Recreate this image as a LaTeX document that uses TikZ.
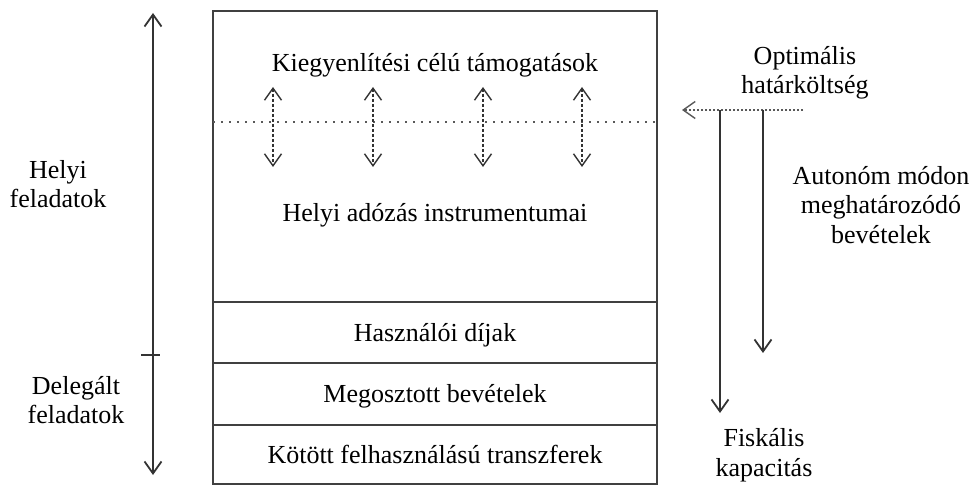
\documentclass[tikz,border=0pt]{standalone}
\usepackage{fontspec}
\setmainfont{Liberation Serif}
\usetikzlibrary{arrows.meta}

\tikzset{
  lbl/.style={font=\fontsize{13}{14.75}\selectfont, inner sep=0pt, align=center},
  frame/.style={draw=black!75, line width=1pt},
  vline/.style={black!80, line width=0.9pt},
  updown/.style={black!80, line width=0.7pt, dash pattern=on 1.5pt off 1pt, <->},
  hatar/.style={black!65, line width=0.7pt, dash pattern=on 1pt off 3pt},
}

\begin{document}
\begin{tikzpicture}[x=0.5pt, y=-0.5pt, >={Straight Barb[length=6pt,width=8.5pt]}]
  \useasboundingbox (0,0) rectangle (975,486);

  % --- Keret és rétegek ---
  \draw[frame] (213,11) rectangle (657,484);
  \foreach \y in {302,363,425}
    \draw[frame] (213,\y) -- (657,\y);

  % --- Bevételi források ---
  \node[lbl, anchor=base] (kieg)    at (435,72)  {Kiegyenlítési célú támogatások};
  \node[lbl, anchor=base] (ado)     at (435,222) {Helyi adózás instrumentumai};
  \node[lbl, anchor=base] (dij)     at (435,342) {Használói díjak};
  \node[lbl, anchor=base] (megoszt) at (435,402) {Megosztott bevételek};
  \node[lbl, anchor=base] (kotott)  at (435,463) {Kötött felhasználású transzferek};

  % --- Pontozott határ és kétirányú nyilak ---
  \draw[hatar] (213,122) -- (657,122);
  \foreach \x [count=\i] in {273,373,483,582} {
    \coordinate (fel\i) at (\x,87);
    \coordinate (le\i)  at (\x,167);
    \draw[updown] (fel\i) -- (le\i);
  }

  % --- Feladatok (bal oldal) ---
  \coordinate (bal-fent) at (153,13);
  \coordinate (bal-lent) at (153,475);
  \coordinate (jel-bal)  at (141,355);
  \coordinate (jel-jobb) at (160,355);
  \draw[vline, <->] (bal-fent) -- (bal-lent);
  \draw[vline] (jel-bal) -- (jel-jobb);
  \node[lbl] (helyi) at (58,184) {Helyi\\feladatok};
  \node[lbl] (deleg) at (76,400) {Delegált\\feladatok};

  % --- Jobb oldal ---
  \node[lbl] (optim) at (805,73)  {Optimális\\határköltség};
  \node[lbl] (auton) at (881,205) {Autonóm módon\\meghatározódó\\bevételek};
  \node[lbl] (fisk)  at (764,455) {Fiskális\\kapacitás};

  \coordinate (opt-jobb) at (803,110);
  \coordinate (opt-bal)  at (682,110);
  \coordinate (fisk-fent) at (720,110);
  \coordinate (fisk-lent) at (720,413);
  \coordinate (aut-fent)  at (763,110);
  \coordinate (aut-lent)  at (763,353);
  \draw[black!65, line width=0.7pt, dash pattern=on 1pt off 1pt, ->] (opt-jobb) -- (opt-bal);
  \draw[vline, ->] (fisk-fent) -- (fisk-lent);
  \draw[vline, ->] (aut-fent) -- (aut-lent);

\end{tikzpicture}
\end{document}
